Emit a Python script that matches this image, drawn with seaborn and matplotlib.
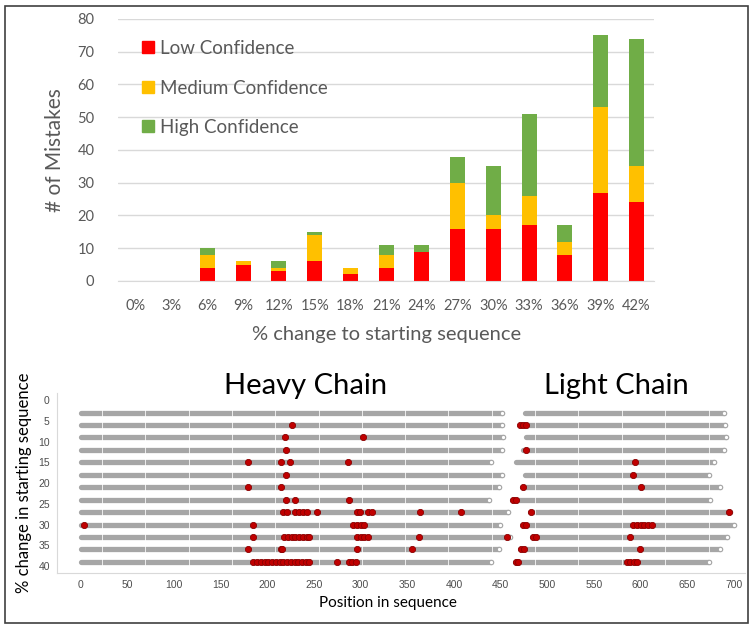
import matplotlib
matplotlib.use("Agg")
import matplotlib.pyplot as plt
import matplotlib.patches as mpatches
import pandas as pd
import seaborn as sns

# Top chart: number of mistakes per % change, split by confidence
pct_labels = ["0%", "3%", "6%", "9%", "12%", "15%", "18%", "21%",
              "24%", "27%", "30%", "33%", "36%", "39%", "42%"]
low_conf = [0, 0, 4, 5, 3, 6, 2, 4, 9, 16, 16, 17, 8, 27, 24]
med_conf = [0, 0, 4, 1, 1, 8, 2, 4, 0, 14, 4, 9, 4, 26, 11]
high_conf = [0, 0, 2, 0, 2, 1, 0, 3, 2, 8, 15, 25, 5, 22, 39]

# Bottom chart: mistake positions along heavy / light chain
row_levels = [3, 6, 9, 12, 15, 18, 21, 24, 27, 30, 33, 36, 39]
heavy_end = [451, 451, 453, 451, 440, 451, 448, 438, 458, 449, 460, 448, 440]
light_start = [476, 471, 477, 474, 466, 476, 473, 462, 481, 474, 484, 471, 465]
light_end = [690, 691, 692, 689, 679, 673, 685, 675, 696, 700, 693, 685, 673]
mistake_pos = [
    [],
    [226, 471, 474, 477],
    [219, 302],
    [220, 477],
    [179, 214, 224, 286, 594],
    [220, 592],
    [179, 214, 474, 600],
    [220, 229, 287, 463, 466],
    [217, 221, 230, 234, 238, 242, 253, 296, 299, 308, 312, 364, 408, 483, 695],
    [3, 185, 292, 296, 300, 303, 474, 477, 592, 596, 600, 604, 608, 612],
    [185, 218, 222, 226, 230, 234, 238, 242, 245, 296, 300, 304, 308, 362, 457,
     485, 488, 589],
    [179, 214, 216, 296, 355, 472, 475, 599],
    [185, 189, 193, 197, 201, 205, 209, 213, 217, 221, 225, 229, 233, 237, 241,
     245, 275, 287, 291, 295, 466, 469, 585, 589, 593, 596],
]
seq_marks = [22.5, 69, 115.5, 162, 208.5, 255, 301.5, 348, 394, 440.5,
             487, 533.5, 580, 626.5, 673]

sns.set_style("white")
plt.rcParams["font.family"] = ["Lato", "DejaVu Sans"]

fig = plt.figure(figsize=(7.54, 6.29), dpi=100)

# ---- stacked bar chart ----
ax1 = fig.add_axes([0.1565, 0.5533, 0.7113, 0.4165])
df_bar = pd.DataFrame({"pct": pct_labels, "low": low_conf,
                       "med": med_conf, "high": high_conf})
df_bar["low_med"] = df_bar["low"] + df_bar["med"]
df_bar["total"] = df_bar["low_med"] + df_bar["high"]

colors = {"low": "#FF0000", "med": "#FFC000", "high": "#70AD47"}
for col, c in [("total", colors["high"]), ("low_med", colors["med"]), ("low", colors["low"])]:
    sns.barplot(data=df_bar, x="pct", y=col, color=c, width=0.42,
                saturation=1, linewidth=0, ax=ax1)

ax1.set_ylim(0, 80)
ax1.set_yticks(range(0, 81, 10))
ax1.yaxis.grid(True, color="#d9d9d9", lw=1)
ax1.set_axisbelow(True)
for s in ["top", "right", "left"]:
    ax1.spines[s].set_visible(False)
ax1.spines["bottom"].set_color("#d9d9d9")
ax1.tick_params(axis="both", length=0, labelsize=10.5, labelcolor="#595959")
ax1.tick_params(axis="y", pad=17)
ax1.tick_params(axis="x", pad=13)
ax1.set_xlabel("% change to starting sequence", fontsize=14.5, color="#595959", labelpad=9)
ax1.set_ylabel("# of Mistakes", fontsize=15, color="#595959", labelpad=9)

handles = [mpatches.Patch(color=colors["low"]),
           mpatches.Patch(color=colors["med"]),
           mpatches.Patch(color=colors["high"])]
ax1.legend(handles, ["Low Confidence", "Medium Confidence", "High Confidence"],
           loc="upper left", bbox_to_anchor=(142 / 754, 1 - 40 / 629),
           bbox_transform=fig.transFigure, frameon=False, fontsize=13.5,
           labelcolor="#595959", handlelength=0.62, handleheight=0.62,
           handletextpad=0.35, labelspacing=1.2, borderpad=0, borderaxespad=0)

# ---- mistake positions along sequence ----
ax2 = fig.add_axes([0.0752, 0.0895, 0.9128, 0.2857])
gray = "#A6A6A6"
hl = ax2.hlines(row_levels, 0, heavy_end, color=gray, lw=3.8, zorder=2)
hl.set_capstyle("round")
ll = ax2.hlines(row_levels, light_start, light_end, color=gray, lw=3.8, zorder=2)
ll.set_capstyle("round")
for m in seq_marks:
    ax2.axvline(m, color="white", lw=0.7, alpha=0.8, zorder=2.2)

ends = pd.DataFrame({"pos": heavy_end + light_end, "level": row_levels * 2})
sns.scatterplot(data=ends, x="pos", y="level", color="white", edgecolor=gray,
                s=10, linewidth=0.8, zorder=3, ax=ax2)

df_m = pd.DataFrame([(p, lvl) for lvl, ps in zip(row_levels, mistake_pos) for p in ps],
                    columns=["pos", "level"])
sns.scatterplot(data=df_m, x="pos", y="level", color="#C00000", edgecolor="#8B0000",
                s=20, linewidth=0.6, zorder=4, ax=ax2)

ax2.set_xlim(-26, 712)
ax2.set_ylim(41.6, -1.7)
ax2.set_xticks(range(0, 701, 50))
ax2.set_yticks(range(0, 41, 5))
for s in ["top", "right"]:
    ax2.spines[s].set_visible(False)
for s in ["left", "bottom"]:
    ax2.spines[s].set_color("#d9d9d9")
ax2.tick_params(axis="both", length=3, width=0.8, color="#d9d9d9",
                labelsize=7.5, labelcolor="#4d4d4d", pad=2)
for lab in ax2.get_xticklabels() + ax2.get_yticklabels():
    lab.set_family(["Liberation Sans", "DejaVu Sans"])
ax2.set_xlabel("")
ax2.set_ylabel("")

fig.text(24 / 754, 1 - 483 / 629, "% change in starting sequence", rotation=90,
         ha="center", va="center", fontsize=12, color="black")
fig.text(388 / 754, 1 - 603 / 629, "Position in sequence",
         ha="center", va="center", fontsize=11, color="black")
fig.text(306 / 754, 1 - 386 / 629, "Heavy Chain", ha="center", va="center",
         fontsize=21, color="black")
fig.text(616 / 754, 1 - 386 / 629, "Light Chain", ha="center", va="center",
         fontsize=21, color="black")

fig.add_artist(mpatches.Rectangle((5 / 754, 6 / 629), 743 / 754, 617 / 629,
                                  transform=fig.transFigure, fill=False,
                                  ec="#404040", lw=1.2))

fig.savefig("out.png", dpi=100)
